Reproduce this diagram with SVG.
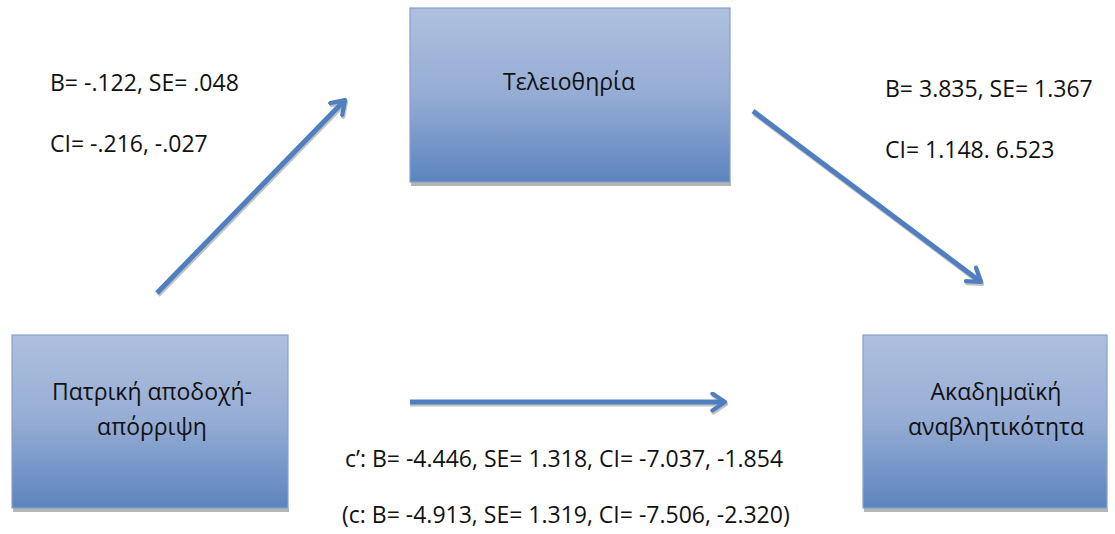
<svg xmlns="http://www.w3.org/2000/svg" width="1115" height="534" viewBox="0 0 1115 534">
<defs>
<linearGradient id="boxGrad" x1="0" y1="0" x2="0" y2="1">
<stop offset="0" stop-color="#aec0de"/>
<stop offset="0.5" stop-color="#95acd4"/>
<stop offset="1" stop-color="#5c84be"/>
</linearGradient>
<marker id="arrowHead" viewBox="0 0 10 10" refX="7" refY="5" markerWidth="4.2" markerHeight="4.2" orient="auto" markerUnits="strokeWidth">
<path d="M1,1 L7,5 L1,9" fill="none" stroke="#4f7fc0" stroke-width="2" stroke-linecap="round" stroke-linejoin="round"/>
</marker>
<marker id="shadowHead" viewBox="0 0 10 10" refX="7" refY="5" markerWidth="4.2" markerHeight="4.2" orient="auto" markerUnits="strokeWidth">
<path d="M1,1 L7,5 L1,9" fill="none" stroke="#9a9a9a" stroke-width="2" stroke-linecap="round" stroke-linejoin="round"/>
</marker>
</defs>
<style>
.box{fill:url(#boxGrad);stroke:#86a0cc;stroke-width:1.2}
.shadow{fill:#b5b5b5}
.lbl{font-family:"Open Sans","Liberation Sans",sans-serif;font-size:23px;fill:#111}
.mid{text-anchor:middle}
.conn{stroke:#4f7fc0;stroke-width:5;fill:none;marker-end:url(#arrowHead)}
.connShadow{stroke:#9a9a9a;stroke-width:5;fill:none;marker-end:url(#shadowHead);opacity:0.6}
</style>
<rect width="1115" height="534" fill="#ffffff"/>
<g id="connectors">
<line class="connShadow" x1="158" y1="295" x2="346" y2="102"/>
<line class="conn" x1="157" y1="293" x2="345" y2="100"/>
<line class="connShadow" x1="754" y1="113" x2="982" y2="284"/>
<line class="conn" x1="753" y1="111" x2="981" y2="282"/>
<line class="connShadow" x1="410" y1="404" x2="726" y2="404"/>
<line class="conn" x1="410" y1="402" x2="725" y2="402"/>
</g>
<g id="node-teleiothiria">
<rect class="shadow" x="411" y="182" width="320" height="4"/>
<rect class="box" x="410" y="8" width="320" height="174"/>
<text class="lbl mid" x="569" y="90">Τελειοθηρία</text>
</g>
<g id="node-patriki">
<rect class="shadow" x="13" y="508" width="276" height="4"/>
<rect class="box" x="12" y="335" width="276" height="173"/>
<text class="lbl mid" x="152" y="400">Πατρική αποδοχή-</text>
<text class="lbl mid" x="152" y="435">απόρριψη</text>
</g>
<g id="node-akadimaiki">
<rect class="shadow" x="864" y="508" width="244" height="4"/>
<rect class="box" x="863" y="335" width="244" height="173"/>
<text class="lbl mid" x="996" y="400">Ακαδημαϊκή</text>
<text class="lbl mid" x="996" y="435">αναβλητικότητα</text>
</g>
<g id="labels">
<text class="lbl" x="50" y="91">B= -.122, SE= .048</text>
<text class="lbl" x="50" y="152">CI= -.216, -.027</text>
<text class="lbl" x="885" y="97">B= 3.835, SE= 1.367</text>
<text class="lbl" x="885" y="158">CI= 1.148. 6.523</text>
<text class="lbl" x="345" y="467">c’: B= -4.446, SE= 1.318, CI= -7.037, -1.854</text>
<text class="lbl" x="342" y="523">(c: B= -4.913, SE= 1.319, CI= -7.506, -2.320)</text>
</g>
</svg>
